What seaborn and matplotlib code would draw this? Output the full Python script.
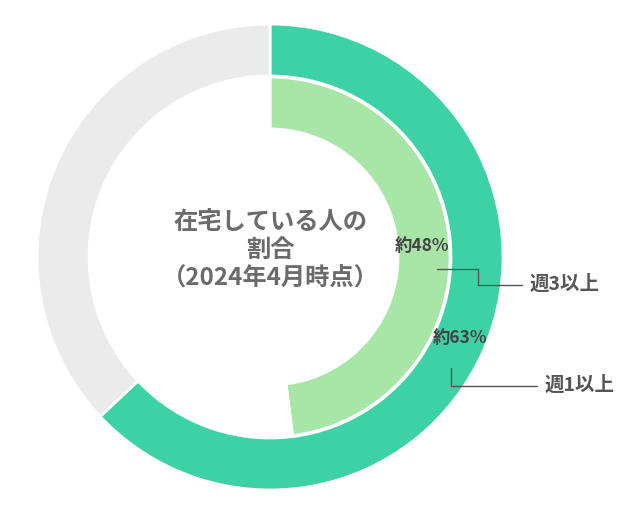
import matplotlib
matplotlib.use("Agg")
import matplotlib.pyplot as plt
import seaborn as sns

sns.set_theme(style="white")
plt.rcParams['font.family'] = ['Noto Sans CJK JP', 'DejaVu Sans']

outer_labels = ["週1以上", "その他"]
outer_values = [63, 37]
inner_labels = ["週3以上", "その他"]
inner_values = [48, 52]
outer_colors = ["#3DD1A6", "#EBEBEB"]
inner_colors = ["#A8E6A8", "#FFFFFF"]
center_title = "在宅している人の\n割合\n（2024年4月時点）"

W, H = 638, 519
fig = plt.figure(figsize=(W / 100, H / 100), dpi=100)
ax = fig.add_axes([0, 0, 1, 1])

cx, cy = 270, H - 257
ax.pie(outer_values, colors=outer_colors, startangle=90, counterclock=False,
       radius=233, center=(cx, cy), frame=True,
       wedgeprops=dict(width=52, edgecolor="white", linewidth=2))
ax.pie(inner_values, colors=inner_colors, startangle=90, counterclock=False,
       radius=180, center=(cx, cy), frame=True,
       wedgeprops=dict(width=52, edgecolor="white", linewidth=2))
ax.set_xlim(0, W)
ax.set_ylim(0, H)
ax.set_aspect("equal")
ax.axis("off")

ax.text(cx, H - 250, center_title, ha="center", va="center", fontsize=17.5,
        fontweight="bold", color="#6B6B6B", linespacing=1.2)

lc = "#555555"
ax.text(422, H - 246, f"約{inner_values[0]}%", ha="center", va="center",
        fontsize=12.5, fontweight="bold", color="#444444")
ax.plot([437, 478, 478, 522], [H - 269, H - 269, H - 285, H - 285], color=lc, lw=1)
ax.text(530, H - 284, inner_labels[0], ha="left", va="center",
        fontsize=14, fontweight="bold", color="#555555")

ax.text(460, H - 338, f"約{outer_values[0]}%", ha="center", va="center",
        fontsize=12.5, fontweight="bold", color="#444444")
ax.plot([451, 451, 537], [H - 368, H - 386, H - 386], color=lc, lw=1)
ax.text(545, H - 385, outer_labels[0], ha="left", va="center",
        fontsize=14, fontweight="bold", color="#555555")

fig.savefig("out.png", dpi=100)
